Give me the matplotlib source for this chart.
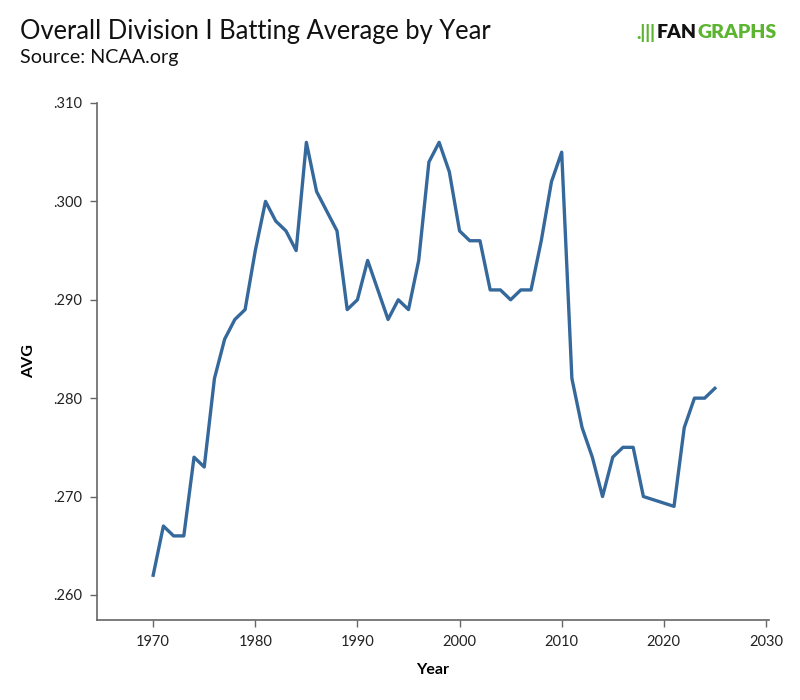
import matplotlib.pyplot as plt

# --- data (2019-2020 not plotted) ---
years = [1970, 1971, 1972, 1973, 1974, 1975, 1976, 1977, 1978, 1979,
         1980, 1981, 1982, 1983, 1984, 1985, 1986, 1987, 1988, 1989,
         1990, 1991, 1992, 1993, 1994, 1995, 1996, 1997, 1998, 1999,
         2000, 2001, 2002, 2003, 2004, 2005, 2006, 2007, 2008, 2009,
         2010, 2011, 2012, 2013, 2014, 2015, 2016, 2017, 2018,
         2021, 2022, 2023, 2024, 2025]
avg = [.262, .267, .266, .266, .274, .273, .282, .286, .288, .289,
       .295, .300, .298, .297, .295, .306, .301, .299, .297, .289,
       .290, .294, .291, .288, .290, .289, .294, .304, .306, .303,
       .297, .296, .296, .291, .291, .290, .291, .291, .296, .302,
       .305, .282, .277, .274, .270, .274, .275, .275, .270,
       .269, .277, .280, .280, .281]

x_ticks = [1970, 1980, 1990, 2000, 2010, 2020, 2030]
y_ticks = [.260, .270, .280, .290, .300, .310]

plt.rcParams['font.family'] = ['Lato', 'DejaVu Sans']

fig = plt.figure(figsize=(8, 7), dpi=100)
ax = fig.add_axes([97 / 800, 80 / 700, 672 / 800, 517 / 700])

ax.plot(years, avg, color='#35689b', linewidth=2.4)

ax.set_xlim(1964.5, 2030.3)
ax.set_ylim(0.25745, 0.310)
ax.set_xticks(x_ticks)
ax.set_yticks(y_ticks)
ax.set_yticklabels([f'{v:.3f}'.lstrip('0') for v in y_ticks])

for side in ['top', 'right']:
    ax.spines[side].set_visible(False)
for side in ['left', 'bottom']:
    ax.spines[side].set_color('#666666')
    ax.spines[side].set_linewidth(1.2)
ax.tick_params(colors='#666666', labelcolor='#222222', labelsize=10.5,
               length=5, width=1, pad=6)

ax.set_xlabel('Year', fontsize=11.5, fontweight='bold', labelpad=10)
ax.set_ylabel('AVG', fontsize=11.5, fontweight='bold', labelpad=12)

# --- titles ---
fig.text(20 / 800, 1 - 31 / 700, 'Overall Division I Batting Average by Year',
         fontsize=18.4, color='#111111', va='center', ha='left')
fig.text(20 / 800, 1 - 58 / 700, 'Source: NCAA.org',
         fontsize=14.2, color='#111111', va='center', ha='left')

# --- logo ---
fig.text(636 / 800, 1 - 33 / 700, '.|||', fontsize=13, fontweight='heavy',
         color='#5cb531', va='center', ha='left')
fan = fig.text(657 / 800, 1 - 33 / 700, 'FAN', fontsize=14, fontweight='heavy',
               color='#111111', va='center', ha='left')
fig.canvas.draw()
bb = fan.get_window_extent()
fig.text(bb.x1 / 800, 1 - 33 / 700, 'GRAPHS', fontsize=14, fontweight='heavy',
         color='#5cb531', va='center', ha='left')

fig.savefig('out.png', dpi=100, facecolor='white')
